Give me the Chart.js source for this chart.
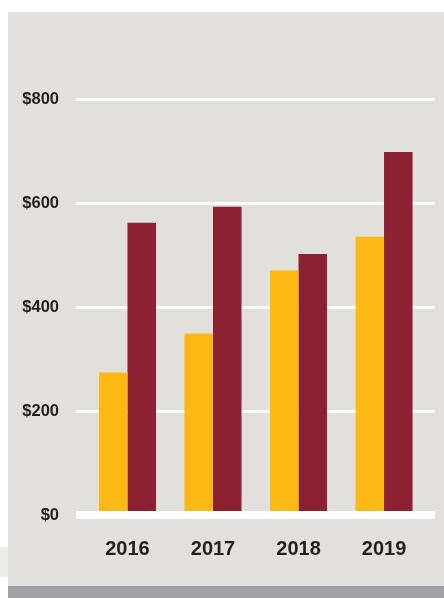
<!DOCTYPE html>
<html>
<head>
<meta charset="utf-8">
<script src="https://cdn.jsdelivr.net/npm/chart.js@4"></script>
<style>
  html, body { margin: 0; padding: 0; background: #ffffff; }
  canvas { display: block; }
</style>
</head>
<body>
<canvas id="c" width="444" height="598"></canvas>
<script>
// ---- data ----
const categories = ['2016', '2017', '2018', '2019'];
const goldValues = [274, 349, 470, 535];
const maroonValues = [562, 593, 502, 698];
const yTickValues = [0, 200, 400, 600, 800];

const GOLD = '#fdb913';
const MAROON = '#8b2131';
const TEXT = '#231f20';

const backgroundPlugin = {
  id: 'panelBackground',
  beforeDraw(chart) {
    const ctx = chart.ctx;
    ctx.save();
    ctx.fillStyle = '#ffffff';
    ctx.fillRect(0, 0, chart.width, chart.height);
    ctx.fillStyle = '#e1e0dc';
    ctx.fillRect(8, 12, chart.width - 8, 574);
    ctx.fillStyle = '#a1a1a4';
    ctx.fillRect(8, 586, chart.width - 8, chart.height - 586);
    ctx.fillStyle = '#ebebe7';
    ctx.fillRect(0, 547, 8, 30);
    ctx.restore();
  }
};

new Chart(document.getElementById('c'), {
  type: 'bar',
  data: {
    datasets: [
      {
        label: 'Series A',
        data: goldValues.map((v, i) => ({ x: i, y: v })),
        backgroundColor: GOLD,
        borderWidth: 0
      },
      {
        label: 'Series B',
        data: maroonValues.map((v, i) => ({ x: i, y: v })),
        backgroundColor: MAROON,
        borderWidth: 0
      }
    ]
  },
  options: {
    responsive: false,
    animation: false,
    devicePixelRatio: 1,
    layout: { padding: { left: 0, right: 9, top: 99, bottom: 0 } },
    datasets: { bar: { categoryPercentage: 0.667, barPercentage: 1.0 } },
    plugins: {
      legend: { display: false },
      tooltip: { enabled: false }
    },
    scales: {
      x: {
        type: 'linear',
        offset: false,
        min: -0.602,
        max: 3.596,
        grid: { display: false, drawTicks: false, offset: false },
        border: { display: false },
        afterBuildTicks(scale) {
          scale.ticks = categories.map((c, i) => ({ value: i }));
        },
        afterFit(scale) { scale.height = 83; },
        ticks: {
          padding: 22,
          color: TEXT,
          font: { family: 'Liberation Sans', weight: 'bold', size: 20 },
          callback: (v) => categories[v] ?? ''
        }
      },
      y: {
        min: 0,
        max: 800,
        afterBuildTicks(scale) {
          scale.ticks = yTickValues.map(v => ({ value: v }));
        },
        afterFit(scale) { scale.width = 76; },
        grid: {
          color: '#ffffff',
          lineWidth: (ctx) => (ctx.tick && ctx.tick.value === 0 ? 8 : 3),
          drawTicks: false
        },
        border: { display: false },
        ticks: {
          padding: 17,
          color: TEXT,
          font: { family: 'Liberation Sans', weight: 'bold', size: 16.5 },
          callback: (v) => '$' + v
        }
      }
    }
  },
  plugins: [backgroundPlugin]
});
</script>
</body>
</html>
